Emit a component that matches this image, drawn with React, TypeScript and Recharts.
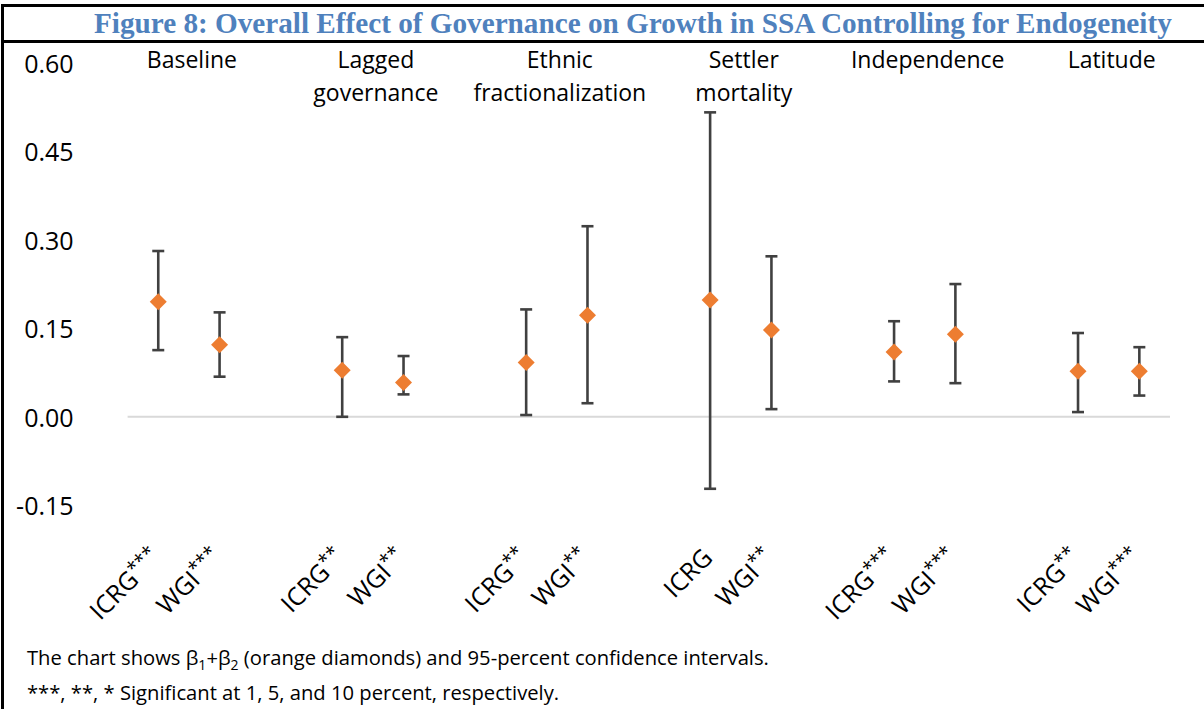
import React from 'react';
import { ComposedChart, Line, XAxis, YAxis, ErrorBar, ReferenceLine, LabelList } from 'recharts';

// Regression specifications (one group of two estimates each)
const specifications = [
  'Baseline',
  'Lagged governance',
  'Ethnic fractionalization',
  'Settler mortality',
  'Independence',
  'Latitude',
];
const measures = ['ICRG', 'WGI'];

// beta1 + beta2 point estimates and 95% confidence bounds
const icrgEstimate = [0.195, 0.079, 0.092, 0.198, 0.11, 0.077];
const icrgLower = [0.113, 0.0, 0.003, -0.122, 0.06, 0.008];
const icrgUpper = [0.281, 0.135, 0.182, 0.516, 0.162, 0.142];
const icrgStars = ['***', '**', '**', '', '***', '**'];

const wgiEstimate = [0.122, 0.058, 0.172, 0.147, 0.14, 0.077];
const wgiLower = [0.068, 0.038, 0.023, 0.013, 0.057, 0.036];
const wgiUpper = [0.177, 0.103, 0.323, 0.272, 0.225, 0.118];
const wgiStars = ['***', '**', '**', '**', '***', '***'];

const yTicks = [-0.15, 0, 0.15, 0.3, 0.45, 0.6];
const yTop = 0.6;

// Layout
const W = 1204;
const H = 709;
const PLOT_LEFT = 127.6;
const PLOT_RIGHT_GAP = 34;
const PLOT_TOP = 62.8;
const PLOT_BOTTOM = 505.3;
const LABEL_FONT = '"Open Sans", "Noto Sans", sans-serif';

type Row = {
  key: string;
  label: string;
  stars: string;
  value: number | null;
  err: [number, number] | null;
  group?: string;
  groupTop?: number | null;
};

const rows: Row[] = [];
specifications.forEach((spec, i) => {
  const est = [icrgEstimate[i], wgiEstimate[i]];
  const lo = [icrgLower[i], wgiLower[i]];
  const hi = [icrgUpper[i], wgiUpper[i]];
  const st = [icrgStars[i], wgiStars[i]];
  measures.forEach((m, j) => {
    rows.push({
      key: `${spec}|${m}`,
      label: m,
      stars: st[j],
      value: est[j],
      err: [est[j] - lo[j], hi[j] - est[j]],
      group: j === 0 ? spec : undefined,
      groupTop: j === 0 ? yTop : null,
    });
  });
  if (i < specifications.length - 1) {
    rows.push({ key: `${spec}|gap`, label: '', stars: '', value: null, err: null, groupTop: null });
  }
});

const bandWidth = (W - PLOT_LEFT - PLOT_RIGHT_GAP) / rows.length;

const Diamond = (props: any) => {
  const { cx, cy, index, value } = props;
  if (value == null || cx == null || cy == null) return <g key={`d-${index}`} />;
  const r = 8.5;
  return (
    <polygon
      key={`d-${index}`}
      points={`${cx},${cy - r} ${cx + r},${cy} ${cx},${cy + r} ${cx - r},${cy}`}
      fill="#ED7D31"
    />
  );
};

const CategoryTick = (props: any) => {
  const { x, y, payload } = props;
  const row = rows.find((r) => r.key === payload.value);
  if (!row || !row.label) return <g />;
  return (
    <g transform={`translate(${x + 4},${y + 46}) rotate(-45)`}>
      <text textAnchor="end" fontFamily={LABEL_FONT} fontSize={25} fill="#000">
        <tspan>{row.label}</tspan>
        {row.stars ? (
          <tspan dy={-8} fontSize={19}>
            {row.stars}
          </tspan>
        ) : null}
      </text>
    </g>
  );
};

const ValueTick = (props: any) => {
  const { x, y, payload } = props;
  return (
    <text
      x={x}
      y={y}
      textAnchor="end"
      dominantBaseline="central"
      fontFamily={LABEL_FONT}
      fontSize={25}
      fill="#000"
    >
      {Number(payload.value).toFixed(2)}
    </text>
  );
};

const GroupLabel = (props: any) => {
  const { x, y, value } = props;
  if (!value || x == null || y == null) return null;
  const lines = String(value).split(' ');
  const cx = x + bandWidth / 2 + 3;
  return (
    <text textAnchor="middle" fontFamily={LABEL_FONT} fontSize={23} fill="#000">
      {lines.map((ln, i) => (
        <tspan key={i} x={cx} y={y - 4 + i * 33} dominantBaseline="central">
          {ln}
        </tspan>
      ))}
    </text>
  );
};

const subStyle: React.CSSProperties = { fontSize: 14, lineHeight: 0 };

export default function App() {
  return (
    <div
      style={{
        position: 'absolute',
        left: 0,
        top: 0,
        width: W,
        height: H,
        background: '#fff',
        overflow: 'hidden',
        fontFamily: LABEL_FONT,
      }}
    >
      {/* frame */}
      <div style={{ position: 'absolute', left: 1, top: 4, width: W - 1, height: 3, background: '#000' }} />
      <div style={{ position: 'absolute', left: 1, top: 40, width: W - 1, height: 3, background: '#000' }} />
      <div style={{ position: 'absolute', left: 1, top: 4, width: 3, height: H - 4, background: '#000' }} />

      <div
        style={{
          position: 'absolute',
          left: 94,
          top: 7,
          height: 33,
          lineHeight: '33px',
          fontFamily: '"Liberation Serif", "Times New Roman", serif',
          fontWeight: 'bold',
          fontSize: 29.2,
          color: '#4F81BD',
          whiteSpace: 'nowrap',
        }}
      >
        Figure 8: Overall Effect of Governance on Growth in SSA Controlling for Endogeneity
      </div>

      <div style={{ position: 'absolute', left: 0, top: 0 }}>
        <ComposedChart
          width={W}
          height={H}
          data={rows}
          margin={{ top: PLOT_TOP, right: PLOT_RIGHT_GAP, bottom: 0, left: 0 }}
        >
          <ReferenceLine y={0} stroke="#D9D9D9" strokeWidth={2} />
          <XAxis
            dataKey="key"
            type="category"
            scale="band"
            interval={0}
            axisLine={false}
            tickLine={false}
            height={H - PLOT_BOTTOM}
            tick={<CategoryTick />}
          />
          <YAxis
            type="number"
            domain={[-0.15, 0.6]}
            ticks={yTicks}
            interval={0}
            axisLine={false}
            tickLine={false}
            width={PLOT_LEFT}
            tickMargin={48}
            tick={<ValueTick />}
          />
          <Line
            dataKey="groupTop"
            stroke="none"
            dot={false}
            activeDot={false}
            isAnimationActive={false}
            legendType="none"
          >
            <LabelList dataKey="group" content={<GroupLabel />} />
          </Line>
          <Line
            dataKey="value"
            stroke="none"
            dot={<Diamond />}
            activeDot={false}
            isAnimationActive={false}
            legendType="none"
          >
            <ErrorBar dataKey="err" direction="y" width={6} stroke="#404040" strokeWidth={2.6} />
          </Line>
        </ComposedChart>
      </div>

      <div
        style={{
          position: 'absolute',
          left: 27,
          top: 640,
          fontFamily: LABEL_FONT,
          fontSize: 20.2,
          lineHeight: '35px',
          color: '#000',
          whiteSpace: 'nowrap',
        }}
      >
        <div>
          The chart shows β<sub style={subStyle}>1</sub>+β<sub style={subStyle}>2</sub> (orange diamonds) and
          95-percent confidence intervals.
        </div>
        <div>***, **, * Significant at 1, 5, and 10 percent, respectively.</div>
      </div>
    </div>
  );
}
